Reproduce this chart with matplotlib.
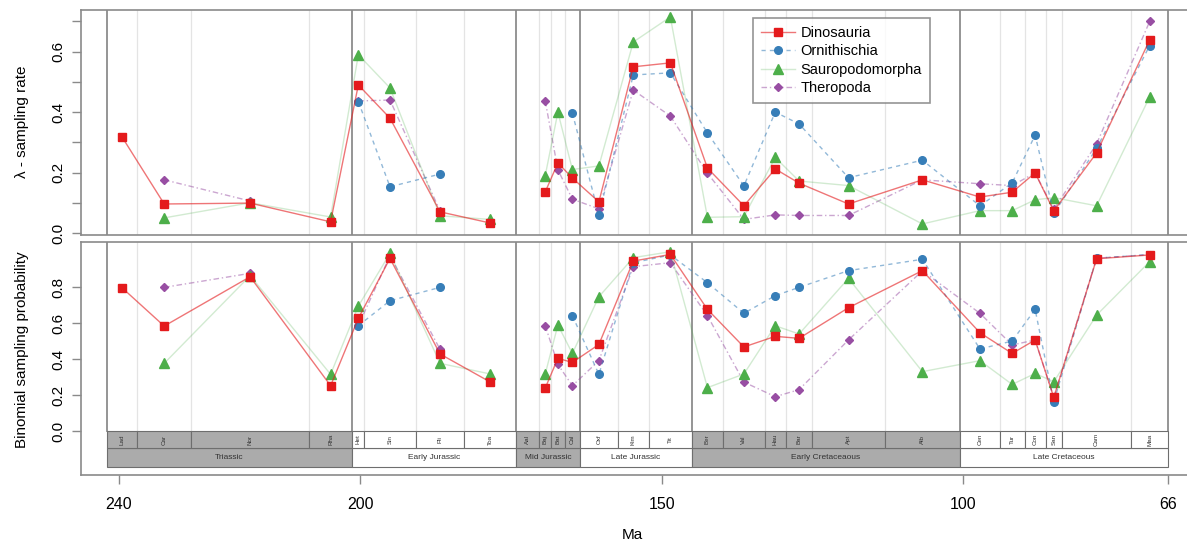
import numpy as np
import matplotlib
matplotlib.use("Agg")
import matplotlib.pyplot as plt
from matplotlib.patches import Rectangle
from matplotlib.colors import to_rgba

plt.rcParams['font.family'] = ['Liberation Sans', 'DejaVu Sans']

nan = np.nan

# geological time scale (Ma)
stage_names = ["Lad", "Car", "Nor", "Rha", "Het", "Sin", "Pli", "Toa",
               "Aal", "Baj", "Bat", "Cal", "Oxf", "Kim", "Tit",
               "Ber", "Val", "Hau", "Bar", "Apt", "Alb",
               "Cen", "Tur", "Con", "San", "Cam", "Maa"]
stage_base = [242, 237, 228, 208.5, 201.3, 199.3, 190.8, 182.7,
              174.1, 170.3, 168.3, 166.1, 163.5, 157.3, 152.1,
              145, 139.8, 132.9, 129.4, 125, 113,
              100.5, 93.9, 89.8, 86.3, 83.6, 72.1]
stage_top = stage_base[1:] + [66]

epoch_names = ["Triassic", "Early Jurassic", "Mid Jurassic", "Late Jurassic",
               "Early Cretaceaous", "Late Cretaceous"]
epoch_base = [242, 201.3, 174.1, 163.5, 145, 100.5]
epoch_top = [201.3, 174.1, 163.5, 145, 100.5, 66]
epoch_grey = [True, False, True, False, True, False]

# lambda - sampling rate, one value per stage
dino_rate = [0.318, 0.096, 0.099, 0.037, 0.49, 0.38, 0.07, 0.033,
             nan, 0.136, 0.232, 0.182, 0.103, 0.55, 0.563,
             0.215, 0.09, 0.212, 0.165, 0.096, 0.176,
             0.119, 0.135, 0.199, 0.073, 0.265, 0.639]
orni_rate = [nan, nan, nan, nan, 0.435, 0.153, 0.195, nan,
             nan, nan, nan, 0.397, 0.06, 0.523, 0.53,
             0.331, 0.156, 0.40, 0.361, 0.183, 0.241,
             0.09, 0.166, 0.324, 0.065, 0.28, 0.62]
sauro_rate = [nan, 0.05, 0.10, 0.053, 0.59, 0.48, 0.057, 0.045,
              nan, 0.19, 0.40, 0.21, 0.222, 0.632, 0.715,
              0.052, 0.054, 0.25, 0.172, 0.157, 0.03,
              0.074, 0.074, 0.11, 0.117, 0.09, 0.45]
thero_rate = [nan, 0.176, 0.106, nan, 0.437, 0.44, 0.073, nan,
              nan, 0.437, 0.209, 0.112, 0.08, 0.473, 0.387,
              0.198, 0.045, 0.06, 0.058, 0.058, 0.176,
              0.163, 0.157, 0.199, 0.078, 0.295, 0.70]

# binomial sampling probability
dino_prob = [0.796, 0.583, 0.857, 0.252, 0.626, 0.959, 0.428, 0.272,
             nan, 0.239, 0.404, 0.381, 0.481, 0.944, 0.981,
             0.676, 0.467, 0.526, 0.515, 0.685, 0.891,
             0.546, 0.431, 0.506, 0.187, 0.957, 0.978]
orni_prob = [nan, nan, nan, nan, 0.585, 0.724, 0.798, nan,
             nan, nan, nan, 0.641, 0.315, 0.935, 0.978,
             0.824, 0.654, 0.752, 0.798, 0.891, 0.954,
             0.456, 0.50, 0.676, 0.163, 0.96, 0.98]
sauro_prob = [nan, 0.376, 0.863, 0.315, 0.694, 0.987, 0.376, 0.317,
              nan, 0.317, 0.589, 0.431, 0.746, 0.963, 0.996,
              0.241, 0.317, 0.585, 0.539, 0.848, 0.33,
              0.391, 0.259, 0.32, 0.274, 0.644, 0.941]
thero_prob = [nan, 0.798, 0.876, nan, 0.585, 0.974, 0.454, nan,
              nan, 0.585, 0.37, 0.252, 0.391, 0.913, 0.935,
              0.641, 0.272, 0.191, 0.23, 0.506, 0.89,
              0.654, 0.478, 0.506, 0.187, 0.96, 0.98]

groups = ["Dinosauria", "Ornithischia", "Sauropodomorpha", "Theropoda"]
colors = ["#E41A1C", "#377EB8", "#4DAF4A", "#984EA3"]
markers = ["s", "o", "^", "D"]
msizes = [6.3, 5.5, 7, 3.8]
lstyles = ["-", (0, (3, 3)), "-", (0, (4, 2, 1, 2))]
lalpha = [0.6, 0.55, 0.25, 0.5]

mid = (np.array(stage_base) + np.array(stage_top)) / 2

W, H = 1187, 547
fig = plt.figure(figsize=(W / 100, H / 100), dpi=100)

# pixel layout
xl, xr = 81, 1200
ax1 = fig.add_axes([xl / W, 1 - 235 / H, (xr - xl) / W, (235 - 10) / H])
ax2 = fig.add_axes([xl / W, 1 - 475 / H, (xr - xl) / W, (475 - 242) / H])

xlim = (246.30, 60.70)
frame_col = "#8a8a8a"


def setup(ax, ymin):
    ax.set_xlim(*xlim)
    for s in ax.spines.values():
        s.set_color(frame_col)
        s.set_linewidth(1.2)
    # stage and epoch boundaries
    for b in stage_base + [66]:
        if b in epoch_base or b == 66:
            ax.axvline(b, ymin=ymin, color="#8c8c8c", lw=1.3, zorder=1)
        else:
            ax.axvline(b, ymin=ymin, color="#e4e4e4", lw=0.9, zorder=1)
    ax.tick_params(axis="y", direction="out", length=6.5, width=1,
                   color=frame_col, labelsize=11, pad=5, labelrotation=90)
    for t in ax.get_yticklabels():
        t.set_va("center")


def draw_series(ax, series):
    for i, vals in enumerate(series):
        ax.plot(mid, vals, color=to_rgba(colors[i], lalpha[i]),
                ls=lstyles[i], lw=1.0, marker=markers[i], ms=msizes[i],
                mfc=colors[i], mec=colors[i], label=groups[i],
                zorder=4 - i if i else 5)


# top panel
ax1.set_ylim(-0.0066, 0.738)
ax1.set_yticks(np.arange(0, 0.71, 0.1))
ax1.set_yticklabels(["0.0", "", "0.2", "", "0.4", "", "0.6", ""])
setup(ax1, 0)
ax1.set_xticks([])
draw_series(ax1, [dino_rate, orni_rate, sauro_rate, thero_rate])
leg = ax1.legend(loc="upper left",
                 bbox_to_anchor=((753 - xl) / (xr - xl), 1 - 8 / 225),
                 borderaxespad=0, fontsize=10.5, frameon=True, fancybox=False,
                 edgecolor="#7a7a7a", handlelength=2.3, borderpad=0.55,
                 labelspacing=0.3, handletextpad=0.4)
leg.get_frame().set_linewidth(1.2)

# bottom panel
ylo = -0.244
ax2.set_ylim(ylo, 1.05)
ax2.set_yticks([0, 0.2, 0.4, 0.6, 0.8])
ax2.set_yticklabels(["0.0", "0.2", "0.4", "0.6", "0.8"])
setup(ax2, (0 - ylo) / (1.05 - ylo))
draw_series(ax2, [dino_prob, orni_prob, sauro_prob, thero_prob])

# time scale bar
srow, erow = -0.094, -0.2
for e in range(len(epoch_names)):
    fc = "#ababab" if epoch_grey[e] else "white"
    ax2.add_patch(Rectangle((epoch_base[e], erow), epoch_top[e] - epoch_base[e], srow - erow,
                            fc=fc, ec="#6e6e6e", lw=0.8, zorder=2))
    ax2.text((epoch_base[e] + epoch_top[e]) / 2, (srow + erow) / 2, epoch_names[e],
             ha="center", va="center", fontsize=6, color="#333333", zorder=3)
for s in range(len(stage_names)):
    e = [k for k in range(len(epoch_base)) if epoch_base[k] >= stage_base[s] > epoch_top[k]][0]
    fc = "#ababab" if epoch_grey[e] else "white"
    ax2.add_patch(Rectangle((stage_base[s], srow), stage_top[s] - stage_base[s], 0 - srow,
                            fc=fc, ec="#6e6e6e", lw=0.8, zorder=2))
    ax2.text(mid[s], srow / 2, stage_names[s], rotation=90, ha="center", va="center",
             fontsize=4.5, color="#333333", zorder=3)

ax2.set_xticks([240, 200, 150, 100, 66])
ax2.set_xticklabels(["240", "200", "150", "100", "66"])
ax2.tick_params(axis="x", direction="out", length=6.5, width=1, color=frame_col,
                labelsize=11.5, pad=9)

fig.text(22 / W, 1 - 122 / H, "λ - sampling rate", rotation=90, ha="center", va="center",
         fontsize=11)
fig.text(22 / W, 1 - 350 / H, "Binomial sampling probability", rotation=90, ha="center",
         va="center", fontsize=11)
fig.text(632 / W, 1 - 535 / H, "Ma", ha="center", va="center", fontsize=11)

fig.savefig("out.png", dpi=100)
